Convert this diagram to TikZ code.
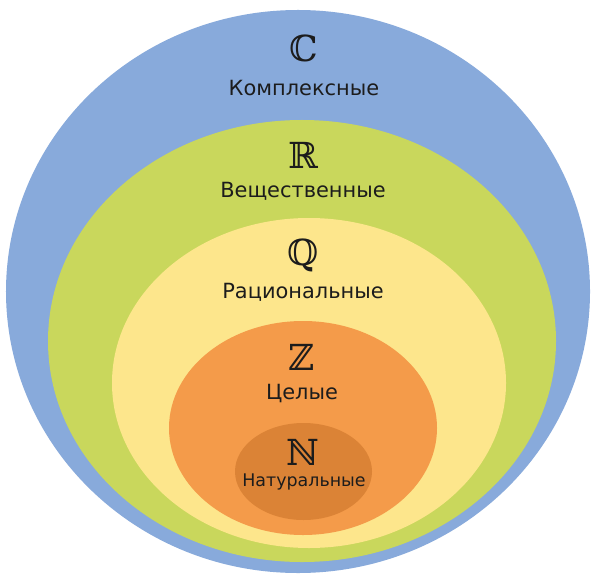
\documentclass[tikz,border=0pt]{standalone}
\usepackage{fontspec}
\setmainfont{DejaVu Sans}
\newfontfamily\bbfont{DejaVu Serif}
\definecolor{cblue}{HTML}{88AADB}
\definecolor{cgreen}{HTML}{C9D75C}
\definecolor{cyellow}{HTML}{FDE68C}
\definecolor{corange}{HTML}{F49B4A}
\definecolor{cdark}{HTML}{DB8336}
\definecolor{ctext}{HTML}{1C1C1C}
\begin{document}
\begin{tikzpicture}[x=1bp,y=-1bp,
  setletter/.style={text=ctext,font=\bbfont\fontsize{36}{36}\selectfont,inner sep=0pt},
  setname/.style={text=ctext,font=\fontsize{21}{22}\selectfont,inner sep=0pt},
  smallname/.style={text=ctext,font=\fontsize{17.5}{18}\selectfont,inner sep=0pt}]
\useasboundingbox (0,0) rectangle (594,576);
\fill[white] (0,0) rectangle (594,576);
\fill[cblue] (298,291.5) ellipse [x radius=292bp, y radius=281.5bp];
\fill[cgreen] (302,341) ellipse [x radius=254bp, y radius=221bp];
\fill[cyellow] (309,383) ellipse [x radius=197bp, y radius=165bp];
\fill[corange] (303,428) ellipse [x radius=134bp, y radius=107bp];
\fill[cdark] (303.5,471.5) ellipse [x radius=68.5bp, y radius=48.5bp];
\node[setletter] (C) at (304,48) {ℂ};
\node[setname] (Cn) at (304,88) {Комплексные};
\node[setletter] (R) at (303,155) {ℝ};
\node[setname] (Rn) at (303,191) {Вещественные};
\node[setletter] (Q) at (303,255) {ℚ};
\node[setname] (Qn) at (303,292) {Рациональные};
\node[setletter] (Z) at (302,357) {ℤ};
\node[setname] (Zn) at (302,394) {Целые};
\node[setletter] (N) at (303,452) {ℕ};
\node[smallname] (Nn) at (304,482) {Натуральные};
\end{tikzpicture}
\end{document}
